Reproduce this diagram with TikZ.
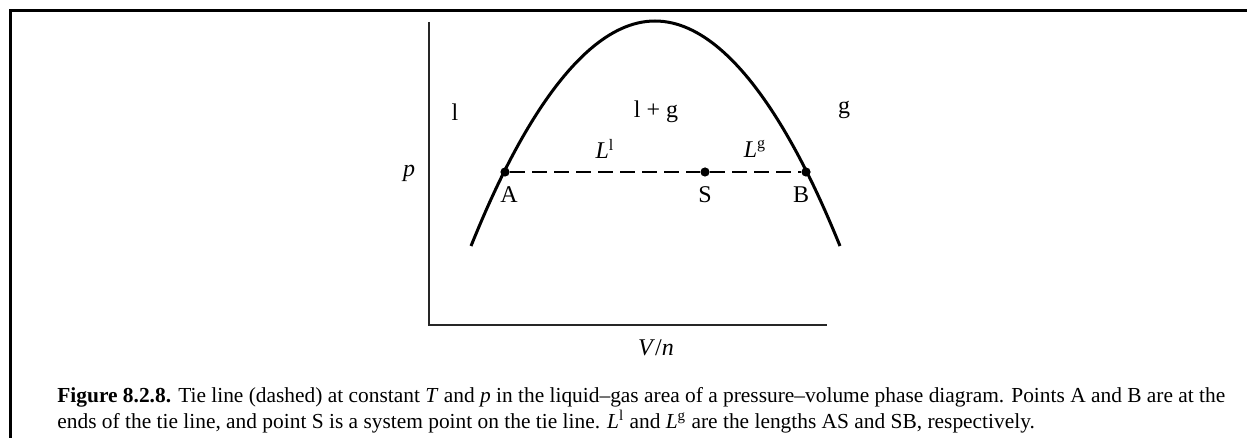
\documentclass[tikz,border=0pt]{standalone}
\usepackage{fontspec}
\setmainfont{Liberation Serif}
\usetikzlibrary{positioning}

\begin{document}
\begin{tikzpicture}[x=0.5pt,y=-0.5pt,font=\fontsize{10.7}{13}\selectfont]
\tikzset{
  dot/.style={circle,fill=black,inner sep=0pt,minimum size=4.6pt},
  lbl/.style={font=\fontsize{12}{14}\selectfont,inner sep=1pt},
  axis/.style={line width=0.7pt,draw=black!85},
  tie/.style={line width=1pt,dash pattern=on 7.5pt off 3.5pt},
  captext/.style={anchor=base west,inner sep=0pt}
}
\useasboundingbox (0,0) rectangle (1247,438);

% frame
\coordinate (fTL) at (10,11);
\coordinate (fTR) at (1247,11);
\coordinate (fBL) at (10,438);
\draw[line width=1.5pt] (fBL) -- (fTL) -- (fTR);

% axes
\coordinate (yTop) at (429,22);
\coordinate (org) at (429,325);
\coordinate (xEnd) at (827,325);
\draw[axis] (yTop) -- (org) -- (xEnd);
\node[lbl] (pLab) at (409,173) {\textit{p}};
\node[lbl] (vLab) at (656,348) {\textit{V}/\textit{n}};

% coexistence curve
\coordinate (cL) at (471,246);
\coordinate (cTop) at (655,21);
\coordinate (cR) at (840,246);
\draw[line width=1.5pt] (cL) parabola bend (cTop) (cR);

% tie line
\node[dot] (A) at (505,172) {};
\node[dot] (S) at (705,172) {};
\node[dot] (B) at (806,172) {};
\draw[tie] (A) -- (S) -- (B);
\node[lbl] (aLab) at (509,195) {A};
\node[lbl] (sLab) at (705,195) {S};
\node[lbl] (bLab) at (801,195) {B};
\node[lbl] (lLen) at (605,149) {\textit{L}\textsuperscript{l}};
\node[lbl] (gLen) at (755,149) {\textit{L}\textsuperscript{g}};

% phase areas
\node[lbl] (liq) at (455,112) {l};
\node[lbl] (two) at (656,112) {l + g};
\node[lbl] (gas) at (844,110) {g};

% caption
\node[captext] (cap1) at (57,402) {\textbf{Figure 8.2.8.} Tie line (dashed) at constant \textit{T} and \textit{p} in the liquid--gas area of a pressure--volume phase diagram. Points A and B are at the};
\node[captext] (cap2) at (57,428) {ends of the tie line, and point S is a system point on the tie line. \textit{L}\textsuperscript{l} and \textit{L}\textsuperscript{g} are the lengths AS and SB, respectively.};
\end{tikzpicture}
\end{document}
